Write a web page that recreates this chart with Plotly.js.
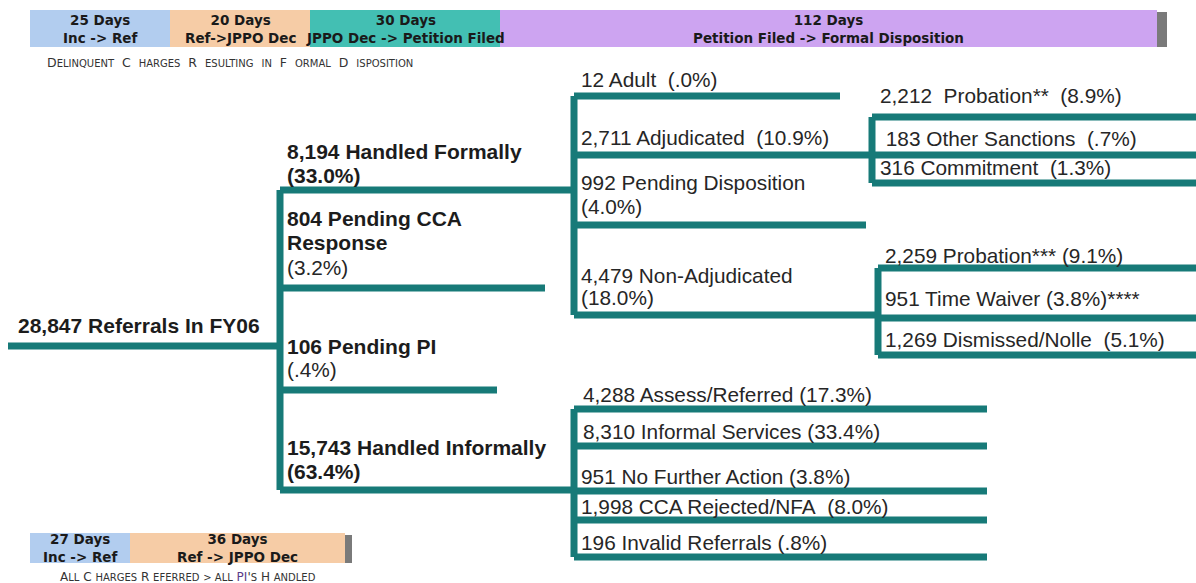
<!DOCTYPE html>
<html><head><meta charset="utf-8">
<script src="https://cdn.plot.ly/plotly-3.0.1.min.js"></script>
<style>html,body{margin:0;padding:0;background:#fff;}#chart{width:1196px;height:583px;}</style>
</head><body><div id="chart"></div>
<script>
// ---------------- DATA ----------------
const rootLabel = "28,847 Referrals In FY06";
const level1Labels = [["8,194 Handled Formally", "(33.0%)"], ["804 Pending CCA", "Response"], ["106 Pending PI"], ["15,743 Handled Informally", "(63.4%)"]];
const level1Extra = ["", "(3.2%)", "(.4%)", ""];
const formalLabels = [["12 Adult\u00a0 (.0%)"], ["2,711 Adjudicated\u00a0 (10.9%)"], ["992 Pending Disposition", "(4.0%)"], ["4,479 Non-Adjudicated", "(18.0%)"]];
const adjudicatedLabels = ["2,212\u00a0 Probation**\u00a0 (8.9%)", "\u00a0183 Other Sanctions\u00a0 (.7%)", "316 Commitment\u00a0 (1.3%)"];
const nonAdjLabels = ["2,259 Probation*** (9.1%)", "951 Time Waiver (3.8%)****", "1,269 Dismissed/Nolle\u00a0 (5.1%)"];
const informalLabels = ["4,288 Assess/Referred (17.3%)", "8,310 Informal Services (33.4%)", "951 No Further Action (3.8%)", "1,998 CCA Rejected/NFA\u00a0 (8.0%)", "196 Invalid Referrals (.8%)"];
const topDays = ["25 Days", "20 Days", "30 Days", "112 Days"];
const topStages = ["Inc -> Ref", "Ref->JPPO Dec", "JPPO Dec -> Petition Filed", "Petition Filed -> Formal Disposition"];
const bottomDays = ["27 Days", "36 Days"];
const bottomStages = ["Inc -> Ref", "Ref -> JPPO Dec"];

// ---------------- LAYOUT GEOMETRY ----------------
const lineColor = "#177a78";
const LW = 7;
const segs = [];
function h(x0, x1, y) { segs.push([x0, y, x1, y]); }
function v(x, y0, y1) { segs.push([x, y0, x, y1]); }

h(8, 280, 346);
const l1Y = [190, 288, 390, 490], l1End = [574, 545, 497, 574];
v(280, 190, 490);
l1Y.forEach((y, i) => h(280, l1End[i], y));
const fY = [96, 155, 225, 315], fEnd = [840, 872, 866, 878];
v(574, 96, 315);
fY.forEach((y, i) => h(574, fEnd[i], y));
const aY = [117, 155, 183];
v(872, 117, 183);
aY.forEach(y => h(872, 1200, y));
const nY = [268, 318, 355];
v(878, 268, 355);
nY.forEach(y => h(878, 1200, y));
const iY = [409, 446, 491, 520, 557];
v(574, 409, 557);
iY.forEach(y => h(574, 987, y));

const xs = [], ys = [];
segs.forEach(s => { xs.push(s[0], s[2], null); ys.push(s[1], s[3], null); });

const traces = [{
  type: "scatter", mode: "lines", x: xs, y: ys,
  line: { color: lineColor, width: LW }, hoverinfo: "skip", connectgaps: false
}];

const ann = [];
const F = "Liberation Sans, Arial, sans-serif";
const FS = 20.8;
function txt(x, y, t, opts = {}) {
  ann.push(Object.assign({
    x, y, text: t, xref: "x", yref: "y", showarrow: false, xanchor: "left", yanchor: "middle",
    font: { family: F, size: FS, color: "#262626" }
  }, opts));
}
const boldFont = { family: F, size: 21, color: "#1c1c1c" };

txt(16, 325, "<b>" + rootLabel + "</b>", { font: boldFont });
const l1TextY = [[151, 175], [218, 242], [346], [447, 471]];
const l1ExtraY = [null, 267, 369, null];
level1Labels.forEach((lines, i) => {
  lines.forEach((t, j) => txt(285, l1TextY[i][j], "<b>" + t + "</b>", { font: boldFont }));
  if (level1Extra[i]) txt(285, l1ExtraY[i], level1Extra[i]);
});
const fTextY = [[79], [137], [182, 206], [275, 297]];
formalLabels.forEach((lines, i) => lines.forEach((t, j) => txt(579, fTextY[i][j], t)));
const aTextY = [95, 138, 167];
adjudicatedLabels.forEach((t, i) => txt(878, aTextY[i], t));
const nTextY = [255, 298, 339];
nonAdjLabels.forEach((t, i) => txt(883, nTextY[i], t));
const iTextY = [394, 431, 476, 506, 542], iTextX = [581, 581, 579, 579, 579];
informalLabels.forEach((t, i) => txt(iTextX[i], iTextY[i], t));

// header bars
const shapes = [];
const HF = { family: "DejaVu Sans, Verdana, sans-serif", size: 13.5, color: "#1a1a1a" };
const topX = [30, 170, 310, 500, 1157];
const topFill = ["#b2cdef", "#f6cca6", "#43bfb3", "#cda4f1"];
for (let i = 0; i < 4; i++) {
  shapes.push({ type: "rect", xref: "x", yref: "y", x0: topX[i], x1: topX[i + 1], y0: 10, y1: 47, fillcolor: topFill[i], line: { width: 0 }, layer: "below" });
  ann.push({ x: (topX[i] + topX[i + 1]) / 2, y: 28.5, xref: "x", yref: "y", showarrow: false, xanchor: "center", yanchor: "middle",
    text: "<b>" + topDays[i] + "<br>" + topStages[i] + "</b>", font: HF });
}
shapes.push({ type: "rect", xref: "x", yref: "y", x0: 1157, x1: 1167, y0: 12, y1: 47, fillcolor: "#7a7a7a", line: { width: 0 } });

const botX = [30, 130, 345];
const botFill = ["#b2cdef", "#f6cca6"];
for (let i = 0; i < 2; i++) {
  shapes.push({ type: "rect", xref: "x", yref: "y", x0: botX[i], x1: botX[i + 1], y0: 533, y1: 563, fillcolor: botFill[i], line: { width: 0 }, layer: "below" });
  ann.push({ x: (botX[i] + botX[i + 1]) / 2, y: 548, xref: "x", yref: "y", showarrow: false, xanchor: "center", yanchor: "middle",
    text: "<b>" + bottomDays[i] + "<br>" + bottomStages[i] + "</b>", font: HF });
}
shapes.push({ type: "rect", xref: "x", yref: "y", x0: 345, x1: 352, y0: 535, y1: 563, fillcolor: "#7a7a7a", line: { width: 0 } });

const S = s => "<span style='font-size:10px'>" + s + "</span>";
ann.push({ x: 45, y: 62, xref: "x", yref: "y", showarrow: false, xanchor: "left", yanchor: "middle",
  text: "D" + S("ELINQUENT") + "  C  " + S("HARGES") + "  R  " + S("ESULTING") + "  " + S("IN") + "  F  " + S("ORMAL") + "  D  " + S("ISPOSITION"),
  font: { family: "DejaVu Sans, sans-serif", size: 12.5, color: "#333" } });
ann.push({ x: 58, y: 577, xref: "x", yref: "y", showarrow: false, xanchor: "left", yanchor: "middle",
  text: "A" + S("LL") + " C " + S("HARGES") + " R " + S("EFERRED") + " " + S("&gt; ALL") + " <span style='color:#5a3a8a'>PI</span>'" + S("S") + " H " + S("ANDLED"),
  font: { family: "DejaVu Sans, sans-serif", size: 12, color: "#333" } });

const layout = {
  width: 1196, height: 583, margin: { l: 0, r: 0, t: 0, b: 0 },
  paper_bgcolor: "#fff", plot_bgcolor: "#fff", showlegend: false,
  xaxis: { range: [0, 1196], visible: false, fixedrange: true },
  yaxis: { range: [583, 0], visible: false, fixedrange: true },
  shapes, annotations: ann
};
Plotly.newPlot("chart", traces, layout, { staticPlot: true, displayModeBar: false });
</script></body></html>
